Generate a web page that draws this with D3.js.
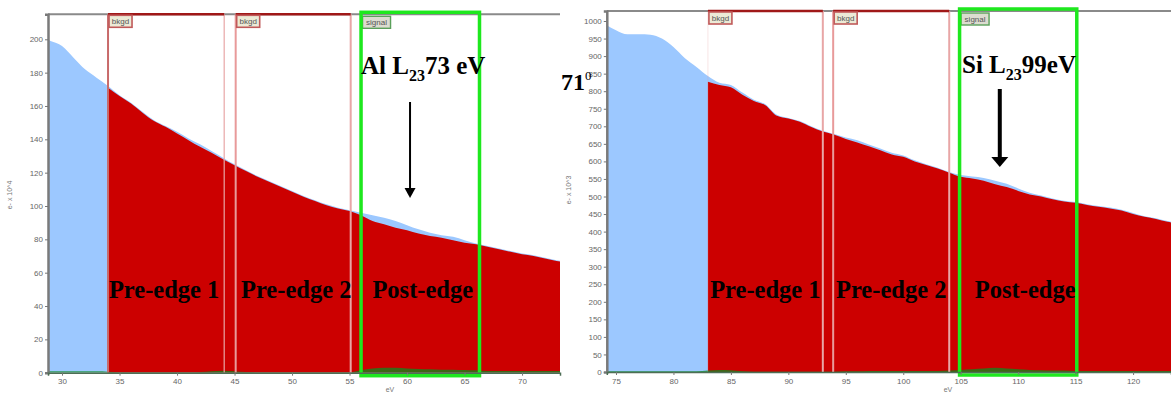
<!DOCTYPE html>
<html><head><meta charset="utf-8">
<script src="https://cdn.jsdelivr.net/npm/d3@7"></script>
<style>
html,body{margin:0;padding:0;background:#fff;}
svg{display:block;}
.tick text{font-family:Arial, "Liberation Sans", sans-serif;}
</style>
</head><body>
<svg id="c" width="1171" height="396"></svg>
<script>
// ---------- DATA ----------
// Left panel (Al L2,3): energy loss (eV) and counts (e- x 10^4)
const leftEnergy = [28,29,30,31,32,33,34,35,36,37,38,39,40,41,42,43,44,45,46,47,48,49,50,51,52,53,54,55,56,57,58,59,60,61,62,63,64,65,66,67,68,69,70,71,72,73,74];
const leftSpectrum = [202,199,196,189,182,177,172,166.5,162,156.5,151.5,148,144.5,140.5,137,133,129,125,121.5,118,115,112,109,106,103.5,101,99,97.5,96,94.5,93,91,88.5,86,84,82.5,81.5,79.5,77.5,76,74.5,73,71.5,70.5,69,67.5,66.5];
const leftBackgroundEnergy = [34,35,36,37,38,39,40,41,42,43,44,45,46,47,48,49,50,51,52,53,54,55,56,57,58,59,60,61,62,63,64,65,66,67,68,69,70,71,72,73,74];
const leftBackground = [171,166,161.5,156,151,147.5,143.5,139.5,135.5,132,128,124.5,121,117.5,114.5,111.5,108.5,105.5,103,100.5,98.5,97,94.5,91,89,87,85.5,83.5,82,81,79.5,78,77,75.5,74,72.5,71,70,68.5,67,66];
const leftSignal = [0.8,0.8,0.8,0.8,0.8,0.8,0.6,0.3,0.3,0.3,0.3,0.3,0.3,0.3,0.4,0.8,1.2,0.9,0.4,0.3,0.3,0.3,0.3,0.3,0.3,0.3,0.3,0.3,1.5,2.5,3,3,2.5,2.2,2,1.8,1.8,1.6,1.4,1,1,1,1,1,1,1,1];
const leftTicksX = [30,35,40,45,50,55,60,65,70];
const leftTicksY = [0,20,40,60,80,100,120,140,160,180,200];
const leftWindows = [
  {name:"bkgd", kind:"bkgd", from:34, to:44.1},
  {name:"bkgd", kind:"bkgd", from:45.1, to:55.1},
  {name:"signal", kind:"signal", from:56, to:66.3}
];
const leftLabels = ["Pre-edge 1","Pre-edge 2","Post-edge"];

// Right panel (Si L2,3): energy loss (eV) and counts (e- x 10^3)
const rightEnergy = [74,75,76,77,78,79,80,81,82,83,84,85,86,87,88,89,90,91,92,93,94,95,96,97,98,99,100,101,102,103,104,105,106,107,108,109,110,111,112,113,114,115,116,117,118,119,120,121,122,123,124];
const rightSpectrum = [992,974,962,962,961,950,926,894,869,843,824,818,796,776,763,733,724,715,700,687,678,668,660,648,637,625,617,603,592,582,570,561,557,553,545,536,523,511,503,494,488,484,478,473,469,462,453,444,438,430,424];
const rightBackgroundEnergy = [83,84,85,86,87,88,89,90,91,92,93,94,95,96,97,98,99,100,101,102,103,104,105,106,107,108,109,110,111,112,113,114,115,116,117,118,119,120,121,122,123,124];
const rightBackground = [827,818,811,790,772,760,730,722,713,698,685,676,664,654,643,632,620,613,600,590,580,568,556,551,545,535,527,516,506,500,492,486,482,476,471,466,460,450,442,436,428,422];
const rightSignal = [2,2,2,2,2,2,2,2,2,4,6,5,2,1,1,1,1,1,1,1,1,2,2,3,3,3,3,3,3,3,4,6,8,10,12,10,8,6,5,4,4,3,3,3,3,3,3,3,3,3,3];
const rightTicksX = [75,80,85,90,95,100,105,110,115,120];
const rightTicksY = [0,50,100,150,200,250,300,350,400,450,500,550,600,650,700,750,800,850,900,950,1000];
const rightWindows = [
  {name:"bkgd", kind:"bkgd", from:83, to:93},
  {name:"bkgd", kind:"bkgd", from:93.9, to:104},
  {name:"signal", kind:"signal", from:104.9, to:115.1}
];
const rightLabels = ["Pre-edge 1","Pre-edge 2","Post-edge"];

// ---------- DRAW ----------
const svg = d3.select("#c");
const serif = "'Liberation Serif', 'Times New Roman', serif";

function panel(cfg){
  const x = d3.scaleLinear().domain(cfg.xDomain).range([cfg.left, cfg.right]);
  const y = d3.scaleLinear().domain(cfg.yDomain).range([cfg.bottom, cfg.top]);
  const g = svg.append("g");
  const clipId = "clip" + cfg.id;
  svg.append("clipPath").attr("id", clipId).append("rect")
    .attr("x", cfg.left).attr("y", cfg.top).attr("width", cfg.right - cfg.left).attr("height", cfg.bottom - cfg.top);
  const plot = g.append("g").attr("clip-path", `url(#${clipId})`);

  const spec = cfg.energy.map((e,i)=>({e, v:cfg.spectrum[i]}));
  const bg = cfg.bgEnergy.map((e,i)=>({e, v:cfg.background[i]}));
  const sig = cfg.energy.map((e,i)=>({e, v:cfg.signal[i]}));
  const area = d3.area().x(d=>x(d.e)).y0(y(0)).y1(d=>y(d.v)).curve(d3.curveMonotoneX);

  plot.append("path").datum(spec).attr("d", area).attr("fill", "#9cc8ff");
  plot.append("path").datum(bg).attr("d", area).attr("fill", "#cc0000");
  plot.append("path").datum(sig).attr("d", area).attr("fill", "#0e8a1e").attr("opacity", 0.75);

  g.append("line").attr("x1", cfg.left).attr("x2", cfg.right).attr("y1", cfg.top).attr("y2", cfg.top)
    .attr("stroke", "#8a8a8a").attr("stroke-width", 2);

  cfg.windows.forEach((w, wi)=>{
    const x0 = x(w.from), x1 = x(w.to);
    if (w.kind === "bkgd"){
      const faintLeft = cfg.id===1 && wi===0;
      g.append("line").attr("x1", x0).attr("x2", x0).attr("y1", cfg.top).attr("y2", cfg.bottom)
        .attr("stroke", cfg.id===0 && wi===0 ? "#c86a6a" : "#e89a9a")
        .attr("stroke-width", faintLeft ? 0.6 : 2).attr("opacity", faintLeft ? 0.4 : 1);
      g.append("line").attr("x1", x1).attr("x2", x1).attr("y1", cfg.top).attr("y2", cfg.bottom)
        .attr("stroke", "#e8a6a6").attr("stroke-width", cfg.id===0 && wi===0 ? 1.2 : 2);
      g.append("line").attr("x1", x0).attr("x2", x1).attr("y1", cfg.top).attr("y2", cfg.top)
        .attr("stroke", "#a01818").attr("stroke-width", 2.5);
      const lg = g.append("g").attr("transform", `translate(${x0+1},${cfg.top+1})`);
      lg.append("rect").attr("width", 23).attr("height", 12).attr("fill", "#ecead6")
        .attr("stroke", "#c05a5a").attr("stroke-width", 1.6);
      lg.append("text").attr("x", 11.5).attr("y", 9).attr("text-anchor", "middle")
        .attr("font-family", "Arial, sans-serif").attr("font-size", 8).attr("fill", "#555").text(w.name);
    } else {
      const lg = g.append("g").attr("transform", `translate(${x0+1.5},${cfg.top+2})`);
      lg.append("rect").attr("width", 28).attr("height", 12).attr("fill", "#dcdcd0")
        .attr("stroke", "#5aa05a").attr("stroke-width", 1.4);
      lg.append("text").attr("x", 14).attr("y", 9).attr("text-anchor", "middle")
        .attr("font-family", "Arial, sans-serif").attr("font-size", 8).attr("fill", "#555").text(w.name);
      g.append("rect").attr("x", x0).attr("y", cfg.top - 2).attr("width", x1 - x0).attr("height", cfg.bottom - cfg.top + 5)
        .attr("fill", "none").attr("stroke", "#1ee81e").attr("stroke-width", 3.5);
    }
  });

  const ya = d3.axisLeft(y).tickValues(cfg.yTicks).tickSize(3).tickPadding(2).tickFormat(d3.format("d"));
  const yg = g.append("g").attr("transform", `translate(${cfg.left},0)`).call(ya);
  yg.select(".domain").attr("stroke", "#7a7a7a").attr("stroke-width", 2.5);
  yg.selectAll(".tick line").attr("stroke", "#777");
  yg.selectAll(".tick text").attr("font-size", 8).attr("fill", "#666");

  const xa = d3.axisBottom(x).tickValues(cfg.xTicks).tickSize(3).tickPadding(3).tickFormat(d3.format("d"));
  const xg = g.append("g").attr("transform", `translate(0,${cfg.bottom})`).call(xa);
  xg.select(".domain").attr("stroke", "#4d6e55").attr("stroke-width", 1.5);
  xg.selectAll(".tick line").attr("stroke", "#777");
  xg.selectAll(".tick text").attr("font-size", 8).attr("fill", "#666");

  g.append("text").attr("transform", `translate(${cfg.yTitleX},${cfg.yTitleY}) rotate(-90)`)
    .attr("text-anchor", "middle").attr("font-family", "Arial, sans-serif").attr("font-size", 7).attr("fill", "#777")
    .text(cfg.yTitle);
  g.append("text").attr("x", cfg.xTitleX).attr("y", 392).attr("text-anchor", "middle")
    .attr("font-family", "Arial, sans-serif").attr("font-size", 7).attr("fill", "#777").text("eV");

  cfg.windows.forEach((w,i)=>{
    g.append("text").attr("x", (x(w.from)+x(w.to))/2 + cfg.labelShift[i]).attr("y", 298)
      .attr("text-anchor", "middle").attr("font-family", serif)
      .attr("font-weight", "bold").attr("font-size", 24.5).attr("fill", "#000").text(cfg.labels[i]);
  });

  const t = g.append("text").attr("x", cfg.edgeX).attr("y", cfg.edgeY)
    .attr("font-family", serif).attr("font-weight", "bold")
    .attr("font-size", 25).attr("fill", "#000");
  t.append("tspan").text(cfg.edgeA);
  t.append("tspan").attr("dy", 7).attr("font-size", 16).text("23");
  t.append("tspan").attr("dy", -7).text(cfg.edgeB);

  const ax = x(cfg.arrowE);
  g.append("line").attr("x1", ax).attr("x2", ax).attr("y1", cfg.arrowY0).attr("y2", cfg.arrowY1 - 8)
    .attr("stroke", "#000").attr("stroke-width", cfg.arrowW);
  const hw = cfg.arrowW * 1.5 + 2.5;
  g.append("path").attr("d", `M${ax-hw},${cfg.arrowY1-10} L${ax+hw},${cfg.arrowY1-10} L${ax},${cfg.arrowY1} Z`).attr("fill", "#000");
  return {x, y};
}

panel({
  id:0, left:48, right:560, top:14.3, bottom:372.7,
  xDomain:[28.78, 73.3], yDomain:[0, 215],
  energy:leftEnergy, spectrum:leftSpectrum, bgEnergy:leftBackgroundEnergy, background:leftBackground, signal:leftSignal,
  xTicks:leftTicksX, yTicks:leftTicksY, windows:leftWindows, labels:leftLabels, labelShift:[-2,3,2.5],
  yTitle:"e- x 10^4", yTitleX:12, yTitleY:195, xTitleX:390,
  edgeA:"Al L", edgeB:"73 eV", edgeX:361, edgeY:74,
  arrowE:60.26, arrowY0:102, arrowY1:198, arrowW:2
});

panel({
  id:1, left:606.8, right:1171, top:11, bottom:372,
  xDomain:[74.2, 123.3], yDomain:[0, 1028.5],
  energy:rightEnergy, spectrum:rightSpectrum, bgEnergy:rightBackgroundEnergy, background:rightBackground, signal:rightSignal,
  xTicks:rightTicksX, yTicks:rightTicksY, windows:rightWindows, labels:rightLabels, labelShift:[0,0,7],
  yTitle:"e- x 10^3", yTitleX:571, yTitleY:190, xTitleX:948,
  edgeA:"Si L", edgeB:"99eV", edgeX:962, edgeY:73,
  arrowE:108.4, arrowY0:89, arrowY1:167, arrowW:4
});

const s = svg.append("text").attr("x", 561).attr("y", 90)
  .attr("font-family", serif).attr("font-weight", "bold")
  .attr("font-size", 24).attr("fill", "#000");
s.append("tspan").text("71");
s.append("tspan").attr("dy", -10).attr("font-size", 13).attr("font-weight", "normal").text("0");
</script>
</body></html>
